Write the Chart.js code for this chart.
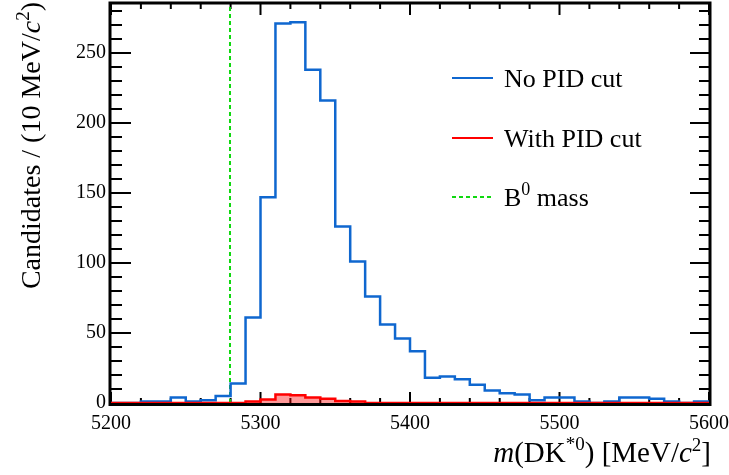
<!DOCTYPE html>
<html>
<head>
<meta charset="utf-8">
<script src="https://cdn.jsdelivr.net/npm/chart.js@4"></script>
<style>
  body { margin: 0; background: #fff; }
  canvas { display: block; }
</style>
</head>
<body>
<canvas id="chart" width="729" height="475"></canvas>
<script>
const SERIF = "'Liberation Serif', 'Times New Roman', serif";

// histogram binning: 10 MeV bins from 5200 to 5600
const BIN_START = 5200;
const BIN_WIDTH = 10;
const X_MIN = 5200;
const X_MAX = 5600;
const Y_MAX = 285;
const X_TICKS = [5200, 5300, 5400, 5500, 5600];
const Y_TICKS = [0, 50, 100, 150, 200, 250];
const B0_MASS = 5279.6;

// candidates per bin
const noPidCut = [
    0, 0, 1, 1, 4, 1, 2, 5, 14, 61,
    147, 271, 272, 238, 216, 126, 101, 76, 56, 46,
    37, 18, 19, 17, 13, 9, 7, 6, 2, 4,
    4, 1, 0, 1, 4, 4, 3, 1, 0, 1,
];
const withPidCut = [
    0, 0, 0, 0, 0, 0, 0, 0, 0, 1,
    2.5, 6, 5.5, 4, 3, 1.5, 1, 0, 0, 0,
    0, 0, 0, 0, 0, 0, 0, 0, 0, 0,
    0, 0, 0, 0, 0, 0, 0, 0, 0, 0,
];

const COLORS = {
    blue: '#0f67cf',
    red: '#ff0000',
    redFill: 'rgba(255, 0, 0, 0.4)',
    green: '#10d810',
};

// left bin edges plus a closing point at the upper edge, drawn as steps
function histPoints(counts) {
    const pts = counts.map((c, i) => ({ x: BIN_START + i * BIN_WIDTH, y: c }));
    pts.push({ x: BIN_START + counts.length * BIN_WIDTH, y: counts[counts.length - 1] });
    return pts;
}

// draw a run of text pieces (italic / superscript) left to right
function drawRich(ctx, parts, x, y, align) {
    const fontOf = (p) => `${p.italic ? 'italic ' : ''}${p.size}px ${SERIF}`;
    let total = 0;
    parts.forEach(p => { ctx.font = fontOf(p); total += ctx.measureText(p.text).width; });
    let cx = align === 'right' ? x - total : x;
    ctx.textAlign = 'left';
    ctx.textBaseline = 'alphabetic';
    parts.forEach(p => {
        ctx.font = fontOf(p);
        ctx.fillText(p.text, cx, y - (p.rise || 0));
        cx += ctx.measureText(p.text).width;
    });
}

const frameAndTicks = {
    id: 'frameAndTicks',
    beforeDatasetsDraw(chart) {
        const { ctx, chartArea: a, scales: { x, y } } = chart;
        ctx.save();
        ctx.strokeStyle = '#000';
        ctx.lineWidth = 3;
        ctx.strokeRect(a.left - 1, a.top - 1, a.right - a.left + 2, a.bottom - a.top + 2.5);
        ctx.lineWidth = 2;
        ctx.beginPath();
        for (let v = X_MIN; v <= X_MAX; v += 20) {
            const px = x.getPixelForValue(v);
            const len = v % 100 === 0 ? 11 : 5;
            ctx.moveTo(px, a.bottom); ctx.lineTo(px, a.bottom - len);
            ctx.moveTo(px, a.top); ctx.lineTo(px, a.top + len);
        }
        for (let v = 0; v <= Y_MAX; v += 10) {
            const py = y.getPixelForValue(v);
            const major = v % 50 === 0;
            ctx.moveTo(a.left, py); ctx.lineTo(a.left + (major ? 20 : 11), py);
            ctx.moveTo(a.right, py); ctx.lineTo(a.right - (major ? 19 : 10), py);
        }
        ctx.stroke();
        ctx.restore();
    },
    afterDraw(chart) {
        const { ctx, chartArea: a } = chart;
        ctx.save();
        ctx.fillStyle = '#000';

        // x axis title, right aligned with the frame
        drawRich(ctx, [
            { text: 'm', size: 29, italic: true },
            { text: '(DK', size: 29 },
            { text: '*0', size: 19, rise: 12 },
            { text: ') [MeV/', size: 29 },
            { text: 'c', size: 29, italic: true },
            { text: '2', size: 19, rise: 11 },
            { text: ']', size: 29 },
        ], a.right + 2, 462, 'right');

        // y axis title, rotated, aligned to the top
        ctx.save();
        ctx.translate(40, 2);
        ctx.rotate(-Math.PI / 2);
        drawRich(ctx, [
            { text: 'Candidates / (10 MeV/', size: 28 },
            { text: 'c', size: 28, italic: true },
            { text: '2', size: 19, rise: 11 },
            { text: ')', size: 28 },
        ], 0, 0, 'right');
        ctx.restore();

        // legend
        const rows = [
            { y: 78, color: COLORS.blue, dash: [], parts: [{ text: 'No PID cut', size: 26 }] },
            { y: 138, color: COLORS.red, dash: [], parts: [{ text: 'With PID cut', size: 26 }] },
            { y: 197, color: COLORS.green, dash: [4, 3], parts: [
                { text: 'B', size: 26 }, { text: '0', size: 18, rise: 11 }, { text: ' mass', size: 26 },
            ] },
        ];
        rows.forEach(r => {
            ctx.strokeStyle = r.color;
            ctx.lineWidth = 2;
            ctx.setLineDash(r.dash);
            ctx.beginPath();
            ctx.moveTo(452, r.y);
            ctx.lineTo(493, r.y);
            ctx.stroke();
            ctx.setLineDash([]);
            drawRich(ctx, r.parts, 504, r.y + 9, 'left');
        });
        ctx.restore();
    },
};

new Chart(document.getElementById('chart'), {
    type: 'line',
    data: {
        datasets: [
            {
                label: 'With PID cut',
                data: histPoints(withPidCut),
                borderColor: COLORS.red,
                backgroundColor: COLORS.redFill,
                fill: 'origin',
                stepped: true,
                borderWidth: 2.5,
                pointRadius: 0,
            },
            {
                label: 'No PID cut',
                data: histPoints(noPidCut),
                borderColor: COLORS.blue,
                fill: false,
                stepped: true,
                borderWidth: 2.5,
                pointRadius: 0,
            },
            {
                label: 'B0 mass',
                data: [{ x: B0_MASS, y: 0 }, { x: B0_MASS, y: Y_MAX }],
                borderColor: COLORS.green,
                borderDash: [4, 3],
                fill: false,
                borderWidth: 2,
                pointRadius: 0,
            },
        ],
    },
    options: {
        responsive: false,
        animation: false,
        devicePixelRatio: 1,
        layout: { padding: { top: 4, right: 20, left: 0, bottom: 0 } },
        plugins: {
            legend: { display: false },
            tooltip: { enabled: false },
        },
        scales: {
            x: {
                type: 'linear',
                min: X_MIN,
                max: X_MAX,
                grid: { display: false, drawTicks: false },
                border: { display: false },
                afterFit: (scale) => {
                    scale.height = 72;
                    scale.paddingLeft = 0;
                    scale.paddingRight = 0;
                },
                afterBuildTicks: (scale) => { scale.ticks = X_TICKS.map(v => ({ value: v })); },
                ticks: {
                    color: '#000',
                    font: { family: SERIF, size: 20 },
                    padding: 9,
                    maxRotation: 0,
                    callback: (v) => String(v),
                },
            },
            y: {
                min: 0,
                max: Y_MAX,
                grid: { display: false, drawTicks: false },
                border: { display: false },
                afterFit: (scale) => {
                    scale.width = 111;
                    scale.paddingTop = 0;
                    scale.paddingBottom = 0;
                },
                afterBuildTicks: (scale) => { scale.ticks = Y_TICKS.map(v => ({ value: v })); },
                ticks: {
                    color: '#000',
                    font: { family: SERIF, size: 20 },
                    padding: 5,
                    callback: (v) => String(v),
                },
            },
        },
    },
    plugins: [frameAndTicks],
});
</script>
</body>
</html>
